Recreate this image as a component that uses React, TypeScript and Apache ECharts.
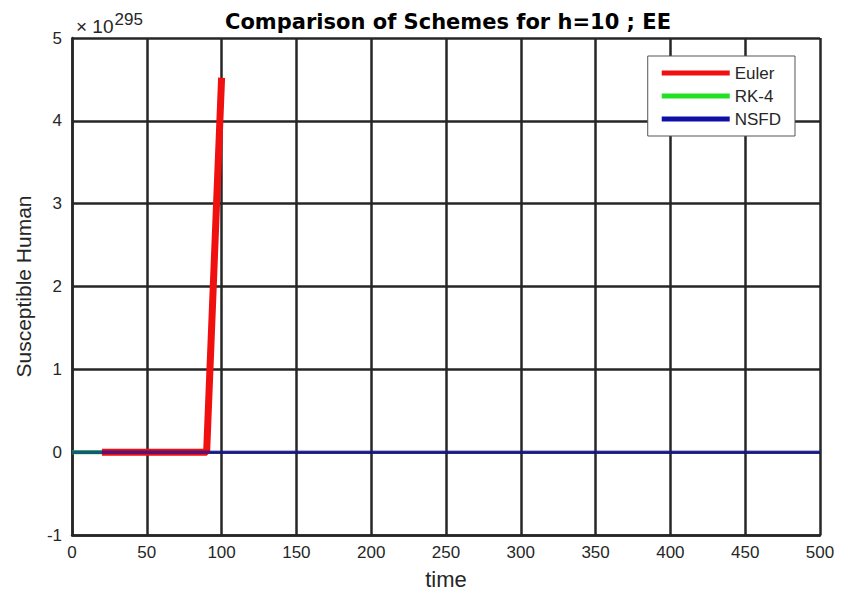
import React, { useEffect, useRef } from "react";
import * as echarts from "echarts";

const eulerTime = [20, 30, 40, 50, 60, 70, 80, 90, 100];
const eulerValues = [0, 0, 0, 0, 0, 0, 0, 0, 4.52];
const rk4Time = [0, 10, 20];
const rk4Values = [0, 0, 0];
const nsfdTime = [0, 100, 200, 300, 400, 500];
const nsfdValues = [0, 0, 0, 0, 0, 0];
const seriesNames = ["Euler", "RK-4", "NSFD"];

const FONT = "'Liberation Sans', Arial, Helvetica, sans-serif";
const DARK = "#262626";

export default function App() {
  const ref = useRef<HTMLDivElement>(null);
  useEffect(() => {
    if (!ref.current) return;
    const chart = echarts.init(ref.current, undefined, { renderer: "svg" });
    const zip = (t: number[], v: number[]) => t.map((x, i) => [x, v[i]]);
    chart.setOption({
      animation: false,
      backgroundColor: "#ffffff",
      title: {
        text: "Comparison of Schemes for h=10 ; EE",
        left: 443,
        top: 6,
        textAlign: "center",
        textStyle: { fontFamily: "'DejaVu Sans', sans-serif", fontWeight: "bold", fontSize: 21, color: "#000" },
      },
      graphic: [
        {
          type: "text",
          left: 76,
          top: 11,
          style: {
            text: "{a|× 10}{b|295}",
            rich: {
              a: { fontFamily: FONT, fontSize: 19, fill: DARK, verticalAlign: "bottom" },
              b: { fontFamily: FONT, fontSize: 17, fill: DARK, verticalAlign: "top", padding: [0, 0, 8, 1] },
            },
          },
        },
      ],
      legend: {
        orient: "vertical",
        right: 47,
        top: 56,
        data: seriesNames,
        icon: "rect",
        itemWidth: 68,
        itemHeight: 5,
        itemGap: 5,
        padding: [8, 14, 8, 14],
        backgroundColor: "#ffffff",
        borderColor: "#555",
        borderWidth: 1,
        borderRadius: 0,
        textStyle: { fontFamily: FONT, fontSize: 17, color: DARK, lineHeight: 18 },
      },
      grid: { left: 72, right: 22, top: 38, bottom: 62, containLabel: false },
      xAxis: {
        type: "value",
        min: 0,
        max: 500,
        interval: 50,
        name: "time",
        nameLocation: "middle",
        nameGap: 33,
        nameTextStyle: { fontFamily: FONT, fontSize: 22, color: DARK },
        axisLine: { show: true, onZero: false, lineStyle: { color: DARK, width: 2.5 } },
        axisTick: { show: false },
        axisLabel: { fontFamily: FONT, fontSize: 17, color: DARK, margin: 9 },
        splitLine: { show: true, lineStyle: { color: DARK, width: 2.5 } },
      },
      yAxis: {
        type: "value",
        min: -1,
        max: 5,
        interval: 1,
        name: "Susceptible Human",
        nameLocation: "middle",
        nameGap: 38,
        nameTextStyle: { fontFamily: FONT, fontSize: 21, color: DARK },
        axisLine: { show: true, lineStyle: { color: DARK, width: 2.5 } },
        axisTick: { show: false },
        axisLabel: { fontFamily: FONT, fontSize: 17, color: DARK, margin: 10 },
        splitLine: { show: true, lineStyle: { color: DARK, width: 2.5 } },
      },
      series: [
        {
          name: "Euler",
          type: "line",
          data: zip(eulerTime, eulerValues),
          showSymbol: false,
          symbol: "none",
          color: "#f01010",
          lineStyle: { color: "#f01010", width: 7 },
          z: 3,
        },
        {
          name: "RK-4",
          type: "line",
          data: zip(rk4Time, rk4Values),
          showSymbol: false,
          symbol: "none",
          color: "#22e022",
          lineStyle: { color: "#22e022", width: 4 },
          z: 4,
        },
        {
          name: "NSFD",
          type: "line",
          data: zip(nsfdTime, nsfdValues),
          showSymbol: false,
          symbol: "none",
          color: "#1010a8",
          lineStyle: { color: "#1010a8", width: 3.5, opacity: 0.65 },
          z: 5,
        },
      ],
    });
    return () => chart.dispose();
  }, []);
  return <div ref={ref} style={{ width: 842, height: 597, position: "absolute", left: 0, top: 0 }} />;
}
